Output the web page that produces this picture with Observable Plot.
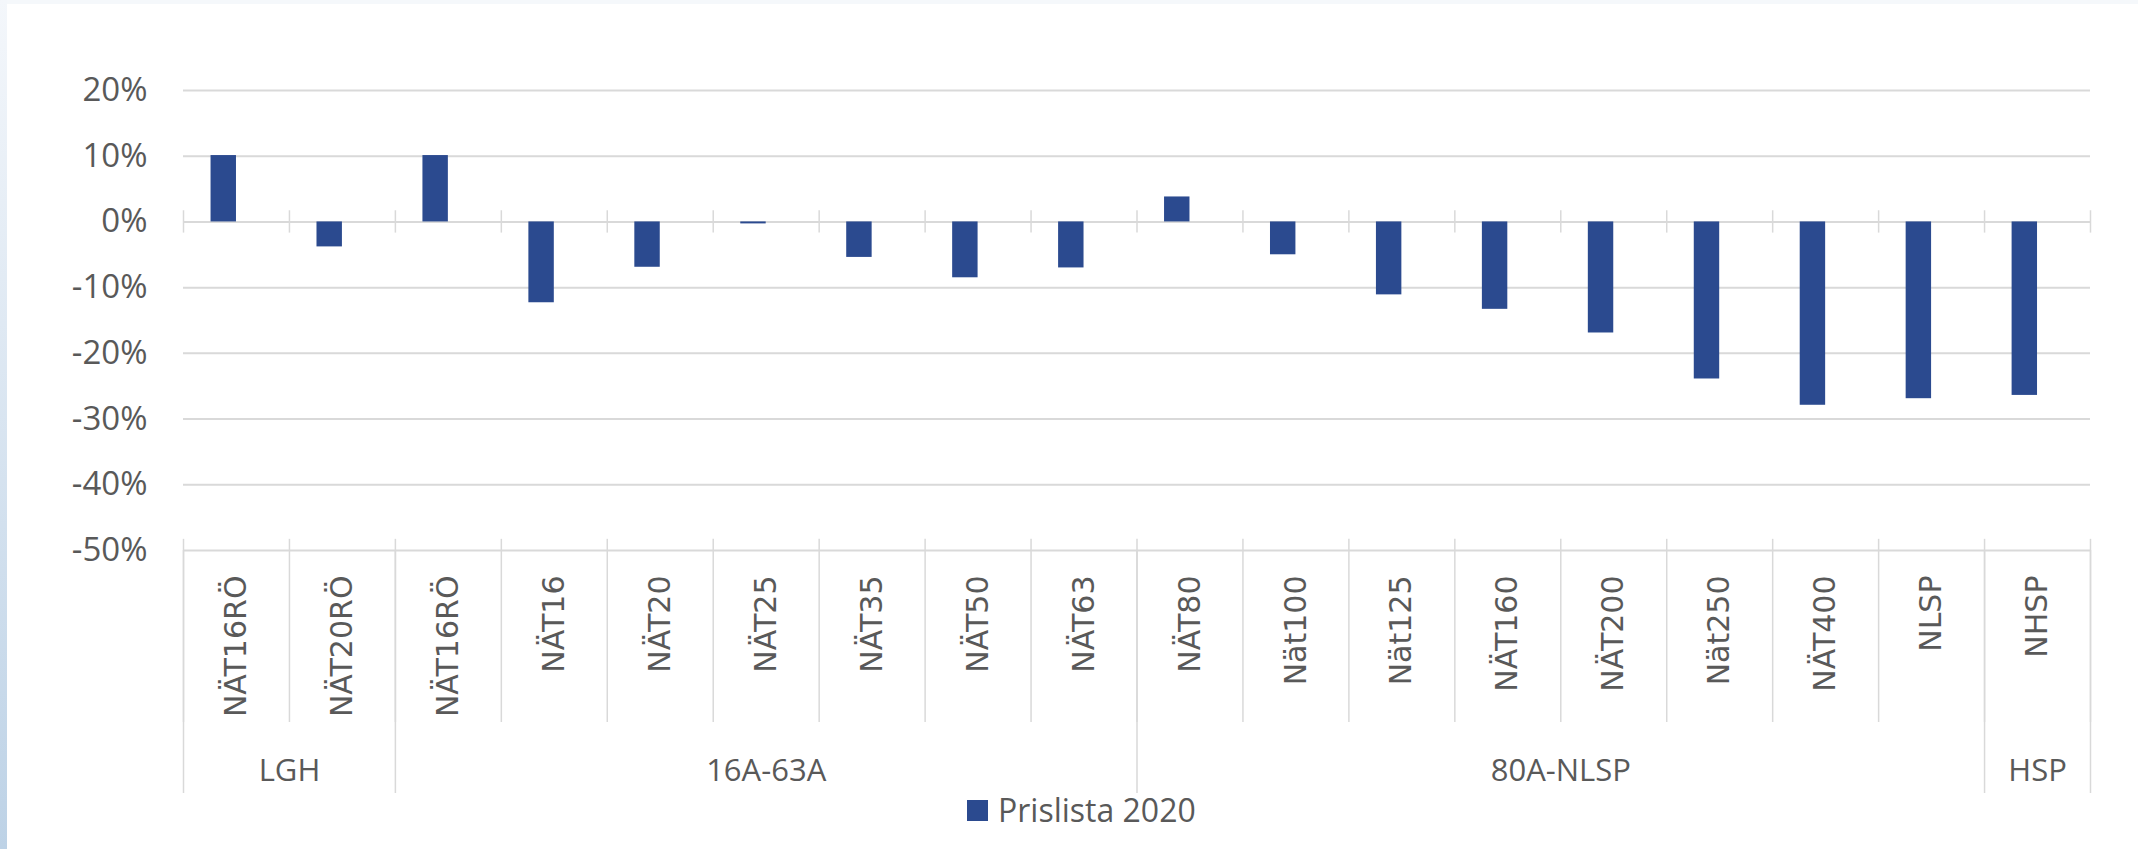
<!DOCTYPE html>
<html>
<head>
<meta charset="utf-8">
<script src="https://cdn.jsdelivr.net/npm/d3@7"></script>
<script src="https://cdn.jsdelivr.net/npm/@observablehq/plot@0.6"></script>
<style>
html, body { margin: 0; padding: 0; background: #fff; }
#wrap { position: relative; width: 2138px; height: 849px; overflow: hidden; background: #fff; }
#topstrip { position: absolute; left: 0; top: 0; width: 2138px; height: 4px; background: #f5f8fb; }
#leftstrip { position: absolute; left: 0; top: 0; width: 7px; height: 849px; background: linear-gradient(#f4f7fb, #bdd2e6); }
#chart { position: absolute; left: 0; top: 0; }
#legend { position: absolute; left: 967px; top: 790px; display: flex; align-items: center; font-family: "Open Sans", sans-serif; font-size: 32px; color: #595959; line-height: 40px; }
#legend .sw { width: 21px; height: 21px; margin-right: 10px; }
</style>
</head>
<body>
<div id="wrap">
  <div id="chart"></div>
  <div id="topstrip"></div>
  <div id="leftstrip"></div>
  <div id="legend"></div>
</div>
<script>
// ---- Data ----
const categories = ["NÄT16RÖ", "NÄT20RÖ", "NÄT16RÖ", "NÄT16", "NÄT20", "NÄT25", "NÄT35", "NÄT50", "NÄT63",
  "NÄT80", "Nät100", "Nät125", "NÄT160", "NÄT200", "Nät250", "NÄT400", "NLSP", "NHSP"];
const values = [10.1, -3.8, 10.1, -12.3, -6.9, -0.3, -5.4, -8.5, -7.0,
  3.8, -5.0, -11.1, -13.3, -16.9, -23.9, -27.9, -26.9, -26.4];
const groups = ["LGH", "16A-63A", "80A-NLSP", "HSP"];
const groupSizes = [2, 7, 8, 1];
const yTicks = [20, 10, 0, -10, -20, -30, -40, -50];
const seriesName = "Prislista 2020";

const barColor = "#2B4A8F";
const gridColor = "#d9d9d9";
const textColor = "#595959";

const data = categories.map((name, i) => ({ i, name, value: values[i] }));
const bounds = d3.range(categories.length + 1);
const centers = d3.range(categories.length).map(i => i + 0.5);
const groupEnds = Array.from(d3.cumsum(groupSizes));
const groupStarts = [0, ...groupEnds.slice(0, -1)];
const groupBounds = [0, ...groupEnds];
const groupCenters = groups.map((g, k) => (groupStarts[k] + groupEnds[k]) / 2);

const chart = Plot.plot({
  width: 2138,
  height: 849,
  marginLeft: 183,
  marginRight: 48,
  marginTop: 90,
  marginBottom: 299,
  x: { domain: [0, categories.length], axis: null, label: null },
  y: { domain: [-50, 20], axis: null, label: null },
  style: { background: "transparent", color: textColor },
  marks: [
    Plot.ruleY(yTicks, { stroke: gridColor, strokeWidth: 2 }),
    Plot.ruleX(bounds, { x: d => d, y1: 1.7, y2: -1.7, stroke: gridColor, strokeWidth: 1.5 }),
    Plot.ruleX(bounds, { x: d => d, y1: -48.3, y2: -50, stroke: gridColor, strokeWidth: 1.5 }),
    Plot.axisX({ ticks: bounds, tickSize: 172, tickFormat: () => "", label: null, color: gridColor, strokeWidth: 1.5 }),
    Plot.axisX({ ticks: groupBounds, tickSize: 243, tickFormat: () => "", label: null, color: gridColor, strokeWidth: 1.5 }),
    Plot.rect(data, { x1: d => d.i + 0.26, x2: d => d.i + 0.5, y1: 0, y2: "value", fill: barColor }),
    Plot.axisX({ ticks: centers, tickSize: 0, tickPadding: 25, tickRotate: -90, label: null,
      tickFormat: t => categories[Math.floor(t)], fontSize: 30, fontFamily: "DejaVu Sans", color: textColor }),
    Plot.axisX({ ticks: groupCenters, tickSize: 0, tickPadding: 208, label: null,
      tickFormat: t => groups[groupCenters.indexOf(t)], fontSize: 31, fontFamily: "Open Sans", color: textColor }),
    Plot.axisY({ ticks: yTicks, tickSize: 0, tickPadding: 36, tickFormat: d => d + "%", label: null,
      fontSize: 33, fontFamily: "Open Sans", color: textColor })
  ]
});
document.getElementById("chart").appendChild(chart);

const legend = document.getElementById("legend");
const sw = document.createElement("div");
sw.className = "sw";
sw.style.background = barColor;
const lab = document.createElement("span");
lab.textContent = seriesName;
legend.appendChild(sw);
legend.appendChild(lab);
</script>
</body>
</html>
